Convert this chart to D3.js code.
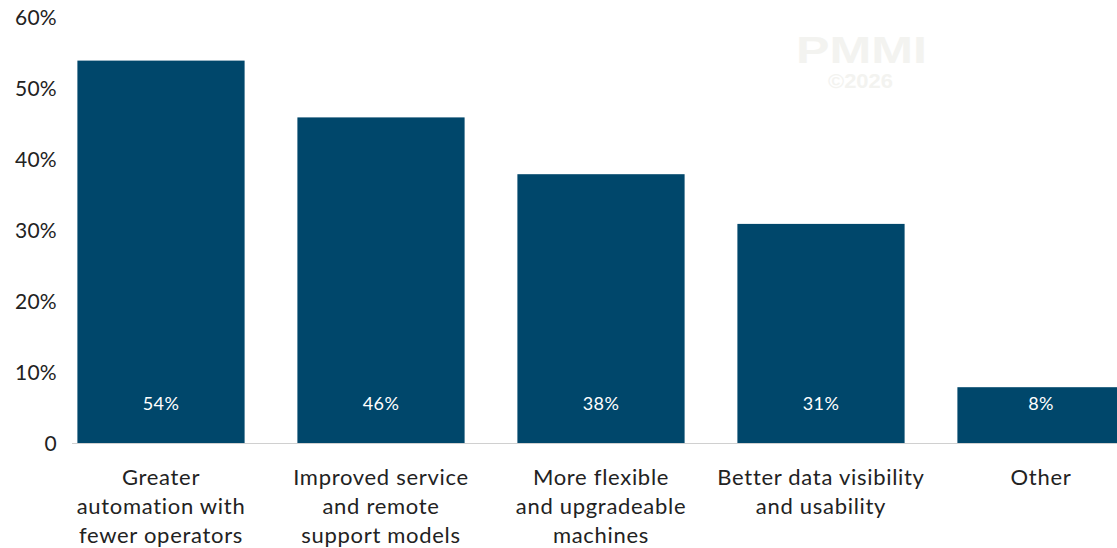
<!DOCTYPE html>
<html>
<head>
<meta charset="utf-8">
<script src="https://cdn.jsdelivr.net/npm/d3@7"></script>
<style>
  html, body { margin: 0; padding: 0; background: #fff; }
  svg { display: block; font-family: Lato, "Noto Sans", sans-serif; }
</style>
</head>
<body>
<svg id="chart" width="1117" height="548"></svg>
<script>
// Survey responses: share of respondents choosing each option
const categories = [
  ["Greater", "automation with", "fewer operators"],
  ["Improved service", "and remote", "support models"],
  ["More flexible", "and upgradeable", "machines"],
  ["Better data visibility", "and usability"],
  ["Other"]
];
const values = [54, 46, 38, 31, 8];
const yTicks = [0, 10, 20, 30, 40, 50, 60];
const yTickLabels = ["0", "10%", "20%", "30%", "40%", "50%", "60%"];

const svg = d3.select("#chart");
const W = 1117, H = 548;
const plotBottom = 444, plotTop = 18;

const x = d3.scaleBand()
  .domain(d3.range(values.length))
  .range([51, 1151])
  .paddingInner(0.24)
  .paddingOuter(0.12);

const y = d3.scaleLinear().domain([0, 60]).range([plotBottom, plotTop]);

// watermark
svg.append("text")
  .attr("x", 796).attr("y", 63)
  .attr("font-family", "'Liberation Sans', Arial, sans-serif")
  .attr("font-weight", 700)
  .attr("font-size", 36)
  .attr("textLength", 131)
  .attr("lengthAdjust", "spacingAndGlyphs")
  .attr("fill", "#f3f3f0")
  .text("PMMI");
svg.append("text")
  .attr("x", 828).attr("y", 88)
  .attr("font-family", "'Liberation Sans', Arial, sans-serif")
  .attr("font-weight", 700)
  .attr("font-size", 21)
  .attr("textLength", 65)
  .attr("lengthAdjust", "spacingAndGlyphs")
  .attr("fill", "#f3f3f0")
  .text("\u00a92026");

// y-axis labels (no axis line)
const yAxis = d3.axisLeft(y)
  .tickValues(yTicks)
  .tickFormat((d, i) => yTickLabels[i])
  .tickSize(0)
  .tickPadding(0);
const gy = svg.append("g").attr("transform", "translate(57,0)").call(yAxis);
gy.select(".domain").remove();
gy.selectAll("text")
  .attr("font-family", "Lato, 'Noto Sans', sans-serif")
  .attr("font-size", 21)
  .attr("letter-spacing", 0.3)
  .attr("fill", "#222");

// bars
svg.append("g").selectAll("rect")
  .data(values)
  .join("rect")
  .attr("x", (d, i) => x(i))
  .attr("width", x.bandwidth())
  .attr("y", d => y(d))
  .attr("height", d => plotBottom - y(d))
  .attr("fill", "#00476b");

// baseline
svg.append("line")
  .attr("x1", 72).attr("x2", W)
  .attr("y1", plotBottom - 0.5).attr("y2", plotBottom - 0.5)
  .attr("stroke", "#d0d0d0").attr("stroke-width", 1);

// value labels inside bars near the bottom
svg.append("g").selectAll("text")
  .data(values)
  .join("text")
  .attr("x", (d, i) => x(i) + x.bandwidth() / 2)
  .attr("y", plotBottom - 34)
  .attr("text-anchor", "middle")
  .attr("font-size", 18)
  .attr("letter-spacing", 0.4)
  .attr("fill", "#fff")
  .text(d => d + "%");

// category labels
const xl = svg.append("g");
categories.forEach((lines, i) => {
  const cx = x(i) + x.bandwidth() / 2;
  const t = xl.append("text")
    .attr("x", cx)
    .attr("y", 485)
    .attr("text-anchor", "middle")
    .attr("font-size", 22)
    .attr("letter-spacing", 0.7)
    .attr("fill", "#222");
  lines.forEach((ln, j) => {
    t.append("tspan")
      .attr("x", cx)
      .attr("dy", j === 0 ? 0 : 29)
      .text(ln);
  });
});
</script>
</body>
</html>
